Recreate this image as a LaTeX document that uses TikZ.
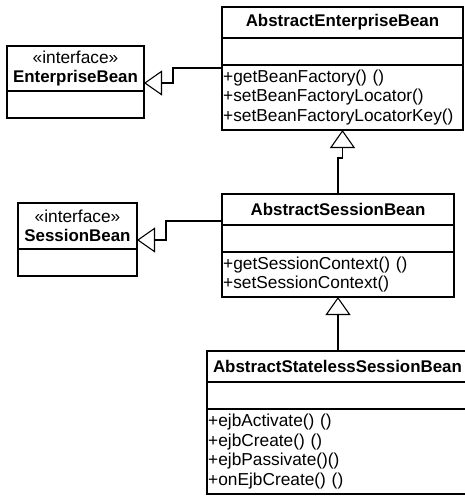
\documentclass[tikz,border=0pt]{standalone}
\usepackage{fontspec}
\setmainfont{Liberation Sans}
\usepackage{tikz}
\usetikzlibrary{arrows.meta,positioning}

\newcommand{\umlfont}{\fontsize{17.3pt}{19.5pt}\selectfont}
\newcommand{\umltitlefont}{\fontsize{16.9pt}{19.5pt}\selectfont\bfseries}

\begin{document}
\begin{tikzpicture}[
    x=1pt, y=-1pt,
    node distance=0pt,
    umlpart/.style={draw, line width=1.1pt, outer sep=0pt, inner xsep=1.2pt, inner ysep=0pt, font=\umlfont},
    titlepart/.style={umlpart, font=\umltitlefont, align=center},
    opspart/.style={umlpart, align=left},
    genedge/.style={line width=1.1pt, -{Triangle[open, length=18pt, width=25pt, line width=1.1pt]}}
]
\useasboundingbox (0,0) rectangle (464,496);

% AbstractEnterpriseBean
\node[titlepart, minimum width=241pt, minimum height=31pt, anchor=north west] (aebtitle) at (222,7) {AbstractEnterpriseBean};
\node[umlpart, minimum width=241pt, minimum height=27pt] (aebattr) [below=of aebtitle] {};
\node[opspart, text width=238.6pt, minimum height=65pt] (aebops) [below=of aebattr]
    {+getBeanFactory() ()\\+setBeanFactoryLocator()\\+setBeanFactoryLocatorKey()};

% EnterpriseBean
\node[titlepart, minimum width=137pt, minimum height=45pt, anchor=north west] (ebtitle) at (7,46)
    {{\umlfont\mdseries«interface»}\\EnterpriseBean};
\node[umlpart, minimum width=137pt, minimum height=27pt] (ebattr) [below=of ebtitle] {};

% AbstractSessionBean
\node[titlepart, minimum width=232pt, minimum height=31pt, anchor=north west] (asbtitle) at (222,194) {AbstractSessionBean};
\node[umlpart, minimum width=232pt, minimum height=27pt] (asbattr) [below=of asbtitle] {};
\node[opspart, text width=229.6pt, minimum height=45pt] (asbops) [below=of asbattr]
    {+getSessionContext() ()\\+setSessionContext()};

% SessionBean
\node[titlepart, minimum width=119pt, minimum height=46pt, anchor=north west] (sbtitle) at (18,203)
    {{\umlfont\mdseries«interface»}\\SessionBean};
\node[umlpart, minimum width=119pt, minimum height=27pt] (sbattr) [below=of sbtitle] {};

% AbstractStatelessSessionBean
\node[titlepart, minimum width=261pt, minimum height=31pt, anchor=north west] (assbtitle) at (207,351) {AbstractStatelessSessionBean};
\node[umlpart, minimum width=261pt, minimum height=27pt] (assbattr) [below=of assbtitle] {};
\node[opspart, text width=258.6pt, minimum height=85pt] (assbops) [below=of assbattr]
    {+ejbActivate() ()\\+ejbCreate() ()\\+ejbPassivate()()\\+onEjbCreate() ()};

% generalizations
\draw[genedge] ([yshift=-3pt]aebops.north west) -- ++(-49,0) |- ([yshift=-14.5pt]ebtitle.east);
\draw[genedge] ([yshift=-11.5pt]asbtitle.west) -- ++(-56,0) |- ([yshift=-14pt]sbtitle.east);
\draw[genedge] (asbtitle.north) -- ++(0,-36) -| (aebops.south);
\draw[genedge] (assbtitle.north -| asbops.south) -- (asbops.south);
\end{tikzpicture}
\end{document}
